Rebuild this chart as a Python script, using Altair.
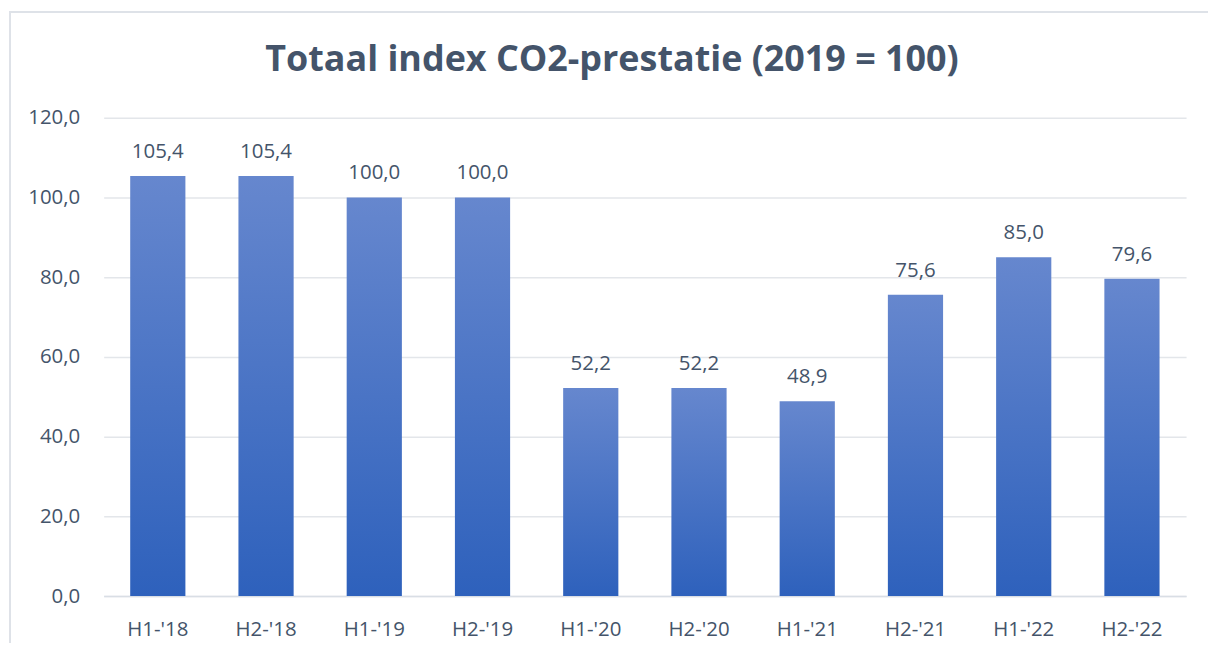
import altair as alt
import pandas as pd

categories = ["H1-'18", "H2-'18", "H1-'19", "H2-'19", "H1-'20", "H2-'20",
              "H1-'21", "H2-'21", "H1-'22", "H2-'22"]
values = [105.4, 105.4, 100.0, 100.0, 52.2, 52.2, 48.9, 75.6, 85.0, 79.6]
y_ticks = [0, 20, 40, 60, 80, 100, 120]

df = pd.DataFrame({"period": categories, "value": values})
df["label"] = [f"{v:.1f}".replace(".", ",") for v in values]

FONT = "Open Sans"
TXT = "#44546A"
FS = 20.5

gradient = alt.LinearGradient(
    gradient="linear", x1=0, y1=0, x2=0, y2=1,
    stops=[alt.GradientStop(color="#6687CE", offset=0),
           alt.GradientStop(color="#2E61BC", offset=1)],
)

x_enc = alt.X("period:N", sort=categories, title=None,
              scale=alt.Scale(paddingInner=0.49, paddingOuter=0.245),
              axis=alt.Axis(labelAngle=0, labelFont=FONT, labelFontSize=FS,
                            labelColor=TXT, labelPadding=24, ticks=False,
                            domainColor="#D9DEE5", domainWidth=1.5, grid=False))
y_enc = alt.Y("value:Q", title=None,
              scale=alt.Scale(domain=[0, 120], nice=False),
              axis=alt.Axis(values=y_ticks, labelFont=FONT, labelFontSize=FS,
                            labelColor=TXT, labelPadding=24, ticks=False,
                            domain=False, gridColor="#E3E6EA", gridWidth=1.5,
                            labelExpr="replace(format(datum.value, '.1f'), '.', ',')"))

frame = alt.Chart(df).mark_rect(fill="transparent", stroke="#DEE2E8",
                                strokeWidth=1.5, clip=False).encode(
    x=alt.value(-94), x2=alt.value(1140), y=alt.value(-106), y2=alt.value(560)
)

bars = alt.Chart(df).mark_bar(color=gradient).encode(x=x_enc, y=y_enc)

labels = alt.Chart(df).mark_text(baseline="bottom", dy=-14, font=FONT,
                                 fontSize=FS, color=TXT).encode(
    x=alt.X("period:N", sort=categories),
    y=alt.Y("value:Q"),
    text="label:N",
)

chart = alt.layer(frame, bars, labels).properties(
    width=1086, height=480,
    background="white",
    title=alt.TitleParams("Totaal index CO2-prestatie (2019 = 100)",
                          font=FONT, fontSize=36, fontWeight="bold",
                          color=TXT, anchor="middle", dx=-33, offset=0,
                          baseline="alphabetic", dy=96),
    autosize=alt.AutoSizeParams(type="none"),
    padding={"left": 96, "top": 109, "right": 22, "bottom": 46},
).configure_view(strokeWidth=0, stroke="transparent")

chart.save("out.html", embed_options={"renderer": "svg", "actions": False})
